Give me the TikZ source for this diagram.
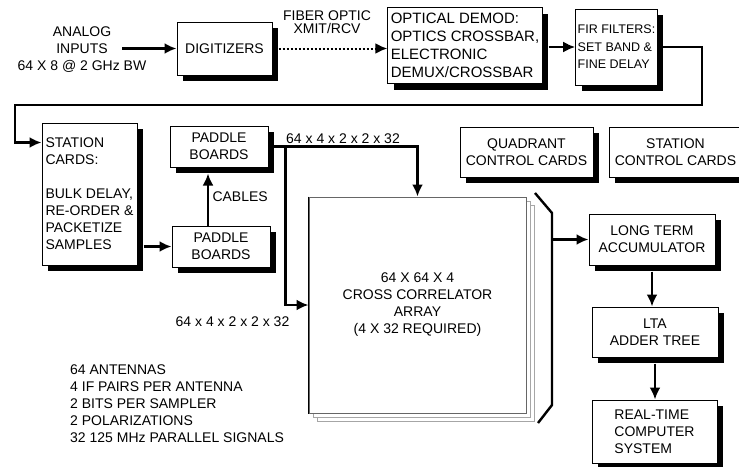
\documentclass[tikz,border=0pt]{standalone}
\usepackage{fontspec}
\setmainfont{Liberation Sans}
\usetikzlibrary{arrows.meta,positioning,shadows}
\tikzset{>={Latex[length=12pt,width=11pt]}}

\begin{document}
\begin{tikzpicture}[x=1pt, y=-1pt,
  every node/.style={font=\fontsize{14}{17}\selectfont},
  blk/.style={draw, line width=1pt, fill=white, inner sep=3pt,
    drop shadow={shadow xshift=6pt, shadow yshift=-6pt, fill=black, opacity=1}},
  page/.style={draw=black!35, line width=0.8pt, fill=white, minimum width=217pt, minimum height=216pt},
  flow/.style={->, line width=2.4pt},
  txt/.style={inner sep=0pt}]
  \useasboundingbox (0,0) rectangle (739,466);

  % top row
  \node[txt, align=center] (ana) at (82,50) {ANALOG\\INPUTS\\64 X 8 @ 2 GHz BW};
  \node[blk, minimum width=95pt, minimum height=53pt] (dig) at (224.5,48.5) {DIGITIZERS};
  \node[txt, align=center, font=\fontsize{14}{13}\selectfont] (fib) at (327,22) {FIBER OPTIC\\XMIT/RCV};
  \node[blk, align=left, minimum width=154pt, minimum height=76pt, font=\fontsize{15}{18}\selectfont] (demod) at (465,45.5) {OPTICAL DEMOD:\\OPTICS CROSSBAR,\\ELECTRONIC\\DEMUX/CROSSBAR};
  \node[blk, align=left, minimum width=77pt, minimum height=76pt, inner sep=2pt, font=\fontsize{12.5}{17.5}\selectfont] (fir) at (616.5,47) {FIR FILTERS:\\SET BAND \&\\FINE DELAY};

  % station side
  \node[blk, align=left, minimum width=95pt, minimum height=142pt] (stn) at (89.5,194) {STATION\\CARDS:\\[17pt]BULK DELAY,\\RE-ORDER \&\\PACKETIZE\\SAMPLES};
  \node[blk, align=center, minimum width=98pt, minimum height=41pt] (pbup) at (219,146.5) {PADDLE\\BOARDS};
  \node[blk, align=center, minimum width=98pt, minimum height=41pt] (pblow) at (221,246.5) {PADDLE\\BOARDS};
  \node[blk, align=center, minimum width=133pt, minimum height=50pt] (quad) at (526.5,152) {QUADRANT\\CONTROL CARDS};
  \node[blk, align=center, minimum width=133pt, minimum height=50pt] (sctl) at (675.5,152) {STATION\\CONTROL CARDS};

  % correlator stack
  \node[page] (corrc) at (425.5,313) {};
  \node[page] (corrb) at (421.5,309) {};
  \node[page, draw=black!60, line width=1pt, align=center] (corr) at (417.5,305) {64 X 64 X 4\\CROSS CORRELATOR\\ARRAY\\(4 X 32 REQUIRED)};
  \draw[line width=1.2pt] (corr.north west) -- (corr.south west);

  % output chain
  \node[blk, align=center, minimum width=126pt, minimum height=51pt] (lta) at (652,239.5) {LONG TERM\\ACCUMULATOR};
  \node[blk, align=center, minimum width=126pt, minimum height=50pt] (add) at (655,332) {LTA\\ADDER TREE};
  \node[blk, align=left, minimum width=125pt, minimum height=63pt] (rtc) at (654.5,431.5) {REAL-TIME\\COMPUTER\\SYSTEM};

  \node[txt, anchor=west, align=left] (notes) at (70,404) {64 ANTENNAS\\4 IF PAIRS PER ANTENNA\\2 BITS PER SAMPLER\\2 POLARIZATIONS\\32 125 MHz PARALLEL SIGNALS};
  \node[txt] (dimlow) at (232.5,322) {64 x 4 x 2 x 2 x 32};

  \coordinate (ain) at (122,48.5);
  \coordinate (loopr) at (702,105);
  \coordinate (loopl) at (15,105);
  \coordinate (split) at ([xshift=17pt]pbup.east);
  \coordinate (br1) at (535,193);
  \coordinate (br2) at (552,213);
  \coordinate (br3) at (552,405);
  \coordinate (br4) at (538,423);

  % connectors
  \draw[flow] (ain) -- (ain -| dig.west);
  \draw[flow, line width=2pt, dash pattern=on 2pt off 2pt, shorten <=6pt] (dig.east) -- (dig.east -| demod.west);
  \draw[flow, shorten <=6pt] (fir.west -| demod.east) -- (fir.west);
  \draw[flow] (fir.east) -| (loopr) -- (loopl) |- ([yshift=-20pt]stn.north west);
  \draw[flow, shorten <=6pt] (stn.east |- pblow.west) -- (pblow.west);
  \draw[flow, shorten >=6pt] ([xshift=-13pt]pblow.north) -- ([xshift=-13pt]pblow.north |- pbup.south)
    node[midway, right] (cab) {CABLES};
  \draw[flow] (pbup.east) -| node[pos=0.25, above, inner sep=2pt] (dimup) {64 x 4 x 2 x 2 x 32} (corr.north);
  \draw[flow] (split) |- (corr.west);
  \draw[line width=2.4pt] (br1) -- (br2) -- (br3) -- (br4);
  \draw[flow] (br2 |- lta.west) -- (lta.west);
  \draw[flow, shorten <=6pt] (lta.south) -- (lta.south |- add.north);
  \draw[flow, shorten <=6pt] (add.south) -- (add.south |- rtc.north);
\end{tikzpicture}
\end{document}
